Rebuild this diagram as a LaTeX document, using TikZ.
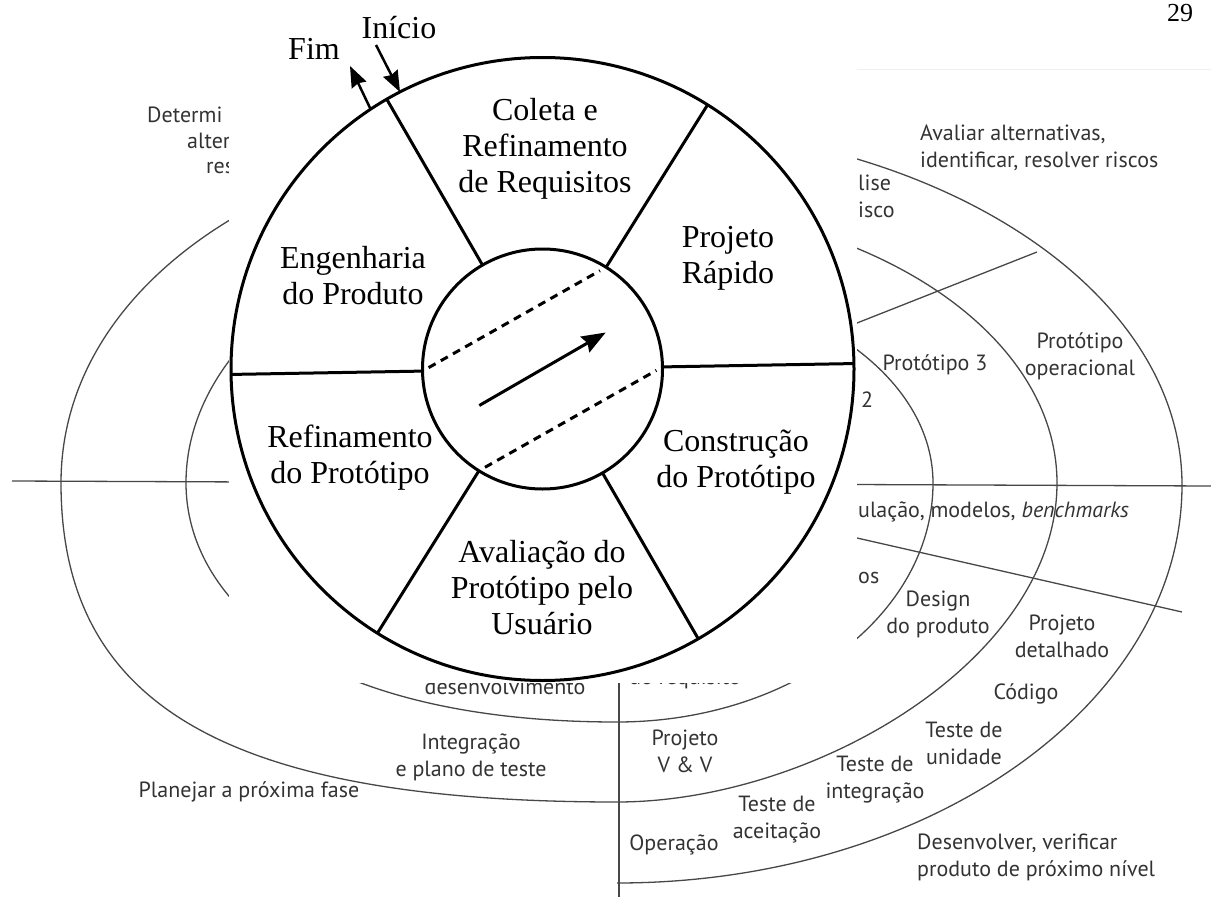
\documentclass[tikz,border=0pt]{standalone}
\usepackage{amsmath}
\usepackage{amssymb}
\usepackage{xcolor}
\usepackage{fontspec}
\setmainfont{Liberation Serif}
\newfontfamily\espiralfont{PT Sans}
\usepackage{tikz}
\usetikzlibrary{calc, positioning}
\usetikzlibrary{arrows.meta}

\begin{document}
\begin{tikzpicture}[x=1pt, y=-1pt]
	\useasboundingbox (0,0) rectangle (1211,899);

	% 定义样式
	\tikzset{
	espiral/.style = {draw=black!72, line width=1.3pt},
	rotulo/.style = {font=\espiralfont\fontsize{22}{27}\selectfont, text=black!80, align=center, inner sep=0pt},
	corte/.style = {rotulo, anchor=base west},
	roda/.style = {line width=3pt},
	setor/.style = {font=\fontsize{32}{36}\selectfont, align=center, inner sep=0pt},
	seta/.style = {arrows = {-Stealth[length=21pt, width=16pt, inset=2pt]}, line width=2.5pt},
	tracejado/.style = {line width=3pt, dash pattern=on 8pt off 6pt, shorten <=7pt, shorten >=7pt}
	}

	% 螺旋模型（背景）
	\draw[espiral] (12,481) -- (1211,486);
	\draw[espiral] (619,482) -- (619,897);
	\draw[espiral] (857,323) -- (1037,252);
	\draw[espiral] (857,538) -- (1182,612);
	\draw[black!6, line width=1pt] (857,70) -- (1211,70);
	\draw[espiral] (617,278)
		.. controls (791.5,278) and (933,369.8) .. (933,483)
		.. controls (933,615) and (791.5,722) .. (617,722)
		.. controls (315,722) and (186,602.5) .. (186,483)
		.. controls (186,328.4) and (379,203) .. (617,203)
		.. controls (860,203) and (1057,328.4) .. (1057,483)
		.. controls (1057,659) and (815,802) .. (617,802)
		.. controls (228,802) and (61,706) .. (61,483)
		.. controls (61,277) and (297,125) .. (617,125)
		.. controls (929,125) and (1182,286) .. (1182,485)
		.. controls (1182,704) and (929,883) .. (617,883);

	% 螺旋上的文字
	\node[corte] (det1) at (147,122) {Determi};
	\node[corte] (det2) at (187,148) {alter};
	\node[corte] (det3) at (206,173) {res};
	\node[rotulo, align=left, anchor=west] (avaliar) at (920,148) {Avaliar alternativas,\\identificar, resolver riscos};
	\node[corte] (analise1) at (858,190) {lise};
	\node[corte] (analise2) at (858,217) {isco};
	\node[rotulo] (prot3) at (935,365) {Protótipo 3};
	\node[rotulo] (protop) at (1080,356) {Protótipo\\operacional};
	\node[rotulo] (prot2) at (867,400) {2};
	\node[corte] (simul) at (858,517) {ulação, modelos, \textit{benchmarks}};
	\node[corte] (reqs) at (858,583) {os};
	\node[rotulo] (design) at (938,614) {Design\\do produto};
	\node[rotulo] (detalhado) at (1062,636) {Projeto\\detalhado};
	\node[rotulo] (codigo) at (1026,694) {Código};
	\node[rotulo] (unidade) at (964,743) {Teste de\\unidade};
	\node[rotulo] (integr) at (875,780) {Teste de\\integração};
	\node[rotulo] (aceit) at (777,820) {Teste de\\aceitação};
	\node[rotulo] (operacao) at (674,845) {Operação};
	\node[rotulo] (vv) at (685,751) {Projeto\\V \& V};
	\node[rotulo, align=left, anchor=west] (desenv) at (917,857) {Desenvolver, verificar\\produto de próximo nível};
	\node[rotulo] (integra) at (471,757) {Integração\\e plano de teste};
	\node[rotulo] (planejar) at (249,792) {Planejar a próxima fase};
	\node[rotulo, anchor=base] (desenvol) at (505,694) {desenvolvimento};
	\node[rotulo, anchor=base] (requisito) at (685,684) {do requisito};

	% 遮盖区域
	\fill[white] (229,0) rectangle (857,683);

	% 原型轮
	\coordinate (c) at (542.5,369);
	\draw[roda] (c) circle [radius=311.5pt];
	\draw[roda] (c) circle [radius=120pt];
	\foreach \a in {1,58,120,181,238,300} {
		\coordinate (i\a) at ($(c)+(\a:120pt)$);
		\coordinate (o\a) at ($(c)+(\a:311.5pt)$);
		\draw[roda] (i\a) -- (o\a);
	}
	\draw[tracejado] (i181) -- (i58);
	\draw[tracejado] (i238) -- (i1);
	\coordinate (setaA) at ($(c)+(210:73pt)$);
	\coordinate (setaB) at ($(c)+(30:73pt)$);
	\draw[seta, line width=3pt, arrows = {-Stealth[length=24pt, width=18pt, inset=3pt]}] (setaA) -- (setaB);

	\node[setor] (coleta) at (545,149) {Coleta e\\Refinamento\\de Requisitos};
	\node[setor] (rapido) at (728,258) {Projeto\\Rápido};
	\node[setor] (construcao) at (736,462) {Construção\\do Protótipo};
	\node[setor] (avaliacao) at (542,588) {Avaliação do\\Protótipo pelo\\Usuário};
	\node[setor] (refin) at (350,458) {Refinamento\\do Protótipo};
	\node[setor] (engenharia) at (353,276) {Engenharia\\do Produto};

	% 开始与结束
	\node[setor] (fim) at (314,49) {Fim};
	\node[setor] (inicio) at (399,28) {Início};
	\coordinate (fimA) at (371,110);
	\coordinate (fimB) at (350,66);
	\coordinate (inicioA) at (376,45);
	\coordinate (inicioB) at (400,92);
	\draw[seta] (fimA) -- (fimB);
	\draw[seta] (inicioA) -- (inicioB);

	\node[font=\fontsize{26}{30}\selectfont, inner sep=0pt] (pagina) at (1180,13) {29};

\end{tikzpicture}
\end{document}
